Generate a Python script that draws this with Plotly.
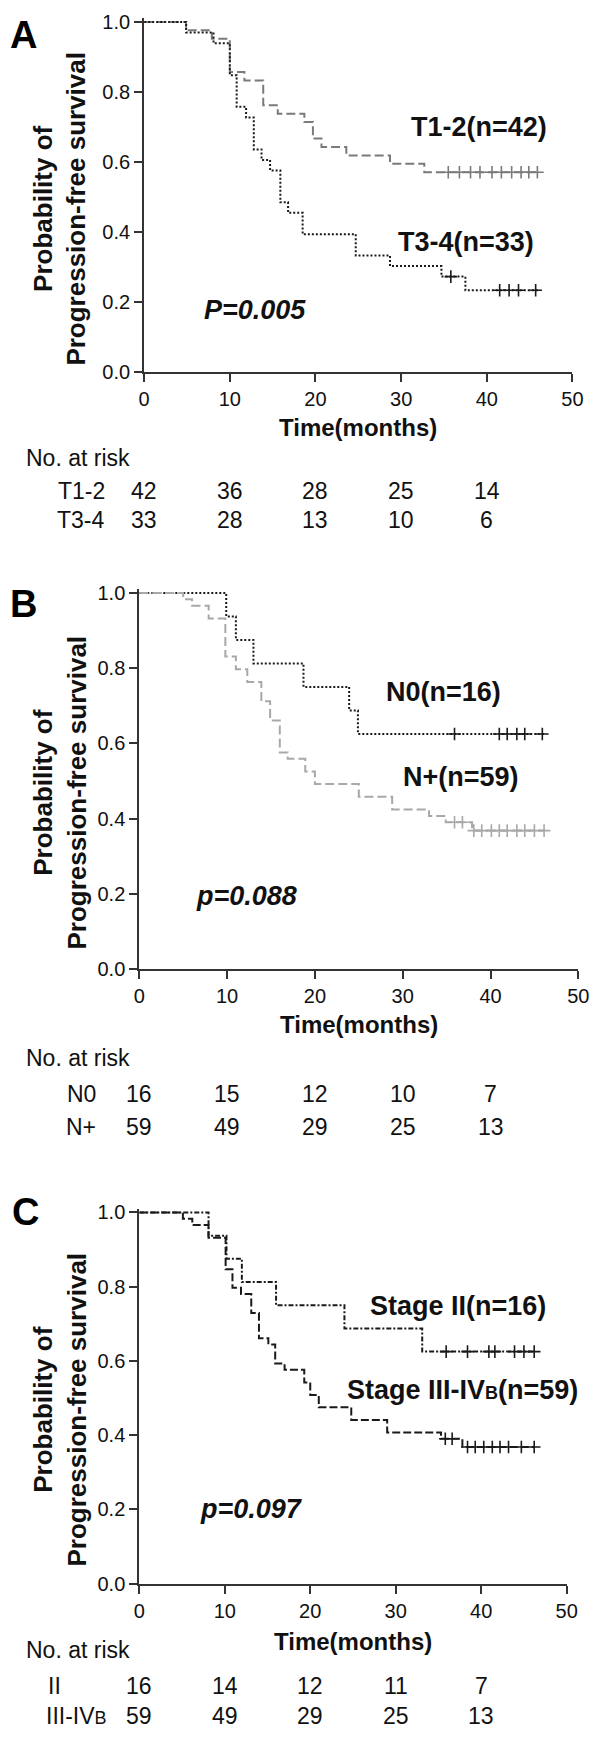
import plotly.graph_objects as go

# The page body keeps the browser's default 8px margin, so the figure is
# drawn 8px smaller than the window and all page positions are shifted by 8px.
PAGE_W, PAGE_H = 600, 1741
OFF = 8
W, H = PAGE_W - OFF, PAGE_H - OFF

# ---------------- data ----------------
x_ticks = [0, 10, 20, 30, 40, 50]
y_ticks = [0.0, 0.2, 0.4, 0.6, 0.8, 1.0]
y_tick_text = ["0.0", "0.2", "0.4", "0.6", "0.8", "1.0"]
risk_times = [0, 10, 20, 30, 40]

# Panel A
A_t12_time = [0, 4.9, 7.9, 10.0, 11.7, 13.9, 15.6, 18.7, 19.7, 20.7, 23.6, 28.7, 32.7, 46.0]
A_t12_surv = [1.0, 0.976, 0.952, 0.857, 0.833, 0.762, 0.738, 0.714, 0.667, 0.643, 0.619, 0.595, 0.571, 0.571]
A_t12_cens_time = [35.5, 36.8, 38.1, 39.2, 40.6, 41.7, 42.9, 44.0, 44.9, 45.9]
A_t12_cens_surv = [0.571] * 10
A_t34_time = [0, 4.9, 8.1, 10.0, 10.8, 11.9, 12.8, 13.7, 14.7, 15.9, 16.8, 18.5, 24.7, 28.7, 34.7, 37.5, 46.0]
A_t34_surv = [1.0, 0.970, 0.939, 0.848, 0.758, 0.727, 0.636, 0.606, 0.576, 0.485, 0.455, 0.394, 0.333, 0.303, 0.273, 0.234, 0.234]
A_t34_cens_time = [35.8, 41.5, 42.6, 43.7, 45.7]
A_t34_cens_surv = [0.273, 0.234, 0.234, 0.234, 0.234]
A_risk_labels = ["T1-2", "T3-4"]
A_risk_t12 = [42, 36, 28, 25, 14]
A_risk_t34 = [33, 28, 13, 10, 6]

# Panel B
B_n0_time = [0, 9.9, 11.0, 13.0, 18.7, 23.9, 24.9, 46.1]
B_n0_surv = [1.0, 0.9375, 0.875, 0.8125, 0.75, 0.6875, 0.625, 0.625]
B_n0_cens_time = [35.9, 41.0, 41.9, 43.0, 43.9, 45.9]
B_n0_cens_surv = [0.625] * 6
B_np_time = [0, 5.0, 6.0, 7.9, 9.8, 11.0, 12.3, 13.9, 14.9, 16.0, 16.9, 18.9, 20.0, 25.0, 28.8, 33.0, 34.9, 37.9, 46.1]
B_np_surv = [1.0, 0.983, 0.966, 0.932, 0.831, 0.797, 0.763, 0.712, 0.661, 0.576, 0.559, 0.525, 0.492, 0.458, 0.424, 0.407, 0.390, 0.368, 0.368]
B_np_cens_time = [35.9, 36.8, 38.1, 39.0, 40.1, 41.0, 41.9, 43.0, 43.9, 45.0, 46.1]
B_np_cens_surv = [0.390, 0.390] + [0.368] * 9
B_risk_labels = ["N0", "N+"]
B_risk_n0 = [16, 15, 12, 10, 7]
B_risk_np = [59, 49, 29, 25, 13]

# Panel C
SUB_B = "<span style='font-size:18px'>B</span>"
C_s2_time = [0, 8.1, 10.2, 12.0, 16.0, 24.0, 33.1, 46.2]
C_s2_surv = [1.0, 0.9375, 0.875, 0.8125, 0.75, 0.6875, 0.625, 0.625]
C_s2_cens_time = [35.9, 38.4, 40.9, 41.6, 43.9, 45.0, 46.2]
C_s2_cens_surv = [0.625] * 7
C_s34_time = [0, 5.1, 6.2, 8.1, 10.1, 10.9, 11.9, 13.1, 14.0, 15.1, 15.9, 17.0, 19.3, 20.0, 21.0, 24.8, 29.0, 35.3, 37.8, 46.2]
C_s34_surv = [1.0, 0.983, 0.966, 0.932, 0.847, 0.797, 0.780, 0.729, 0.661, 0.644, 0.593, 0.576, 0.542, 0.508, 0.475, 0.441, 0.407, 0.390, 0.368, 0.368]
C_s34_cens_time = [35.8, 36.6, 38.4, 39.3, 40.3, 41.3, 42.2, 43.2, 44.7, 46.2]
C_s34_cens_surv = [0.390, 0.390] + [0.368] * 8
C_risk_labels = ["II", "III-IV" + SUB_B]
C_risk_s2 = [16, 14, 12, 11, 7]
C_risk_s34 = [59, 49, 29, 25, 13]

# ---------------- styling / layout ----------------
FONT = "Liberation Sans, Arial, sans-serif"
AX = "#333333"
TXT = "#111111"


def px(x):
    return (x - OFF) / W


def py(y):
    return 1 - (y - OFF) / H


panels = [
    dict(letter="A", n="", x0=142, x1=583, y0=369, y1=15, letter_xy=(18, 28),
         curves=[
             (A_t12_time, A_t12_surv, A_t12_cens_time, A_t12_cens_surv, "#7a7a7a", "9px,4px", "T1-2(n=42)", (487, 121)),
             (A_t34_time, A_t34_surv, A_t34_cens_time, A_t34_cens_surv, "#1a1a1a", "2px,2px", "T3-4(n=33)", (473, 237)),
         ],
         pval="<i>P=0.005</i>", pxy=(202, 306),
         risk_labels=A_risk_labels, risk_rows=[A_risk_t12, A_risk_t34],
         label_x=[77, 77], title_y=425, nrisk_y=456, row_y=[489, 518]),
    dict(letter="B", n="2", x0=137, x1=589, y0=972, y1=592, letter_xy=(18, 603),
         curves=[
             (B_n0_time, B_n0_surv, B_n0_cens_time, B_n0_cens_surv, "#1a1a1a", "2px,2px", "N0(n=16)", (450, 692)),
             (B_np_time, B_np_surv, B_np_cens_time, B_np_cens_surv, "#a8a8a8", "9px,4px", "N+(n=59)", (468, 778)),
         ],
         pval="<i>p=0.088</i>", pxy=(193, 898),
         risk_labels=B_risk_labels, risk_rows=[B_risk_n0, B_risk_np],
         label_x=[77, 77], title_y=1028, nrisk_y=1062, row_y=[1098, 1132]),
    dict(letter="C", n="3", x0=137, x1=577, y0=1593, y1=1218, letter_xy=(20, 1218),
         curves=[
             (C_s2_time, C_s2_surv, C_s2_cens_time, C_s2_cens_surv, "#1a1a1a", "5px,2px,2px,2px", "Stage II(n=16)", (465, 1313)),
             (C_s34_time, C_s34_surv, C_s34_cens_time, C_s34_cens_surv, "#1a1a1a", "8px,3px",
              "Stage III-IV" + SUB_B + "(n=59)", (470, 1397)),
         ],
         pval="<i>p=0.097</i>", pxy=(197, 1518),
         risk_labels=C_risk_labels, risk_rows=[C_risk_s2, C_risk_s34],
         label_x=[50, 72], title_y=1652, nrisk_y=1660, row_y=[1697, 1727]),
]

fig = go.Figure()
annotations = []
YMAX = 1.01

for p in panels:
    xa = "x" + p["n"]
    ya = "y" + p["n"]
    xkey = "xaxis" + p["n"]
    ykey = "yaxis" + p["n"]
    ytop = p["y0"] - YMAX * (p["y0"] - p["y1"])
    fig.layout[xkey] = dict(
        domain=[px(p["x0"]), px(p["x1"])], range=[0, 50], anchor=ya,
        tickvals=x_ticks, ticks="outside", ticklen=8, tickwidth=2, tickcolor=AX,
        showline=True, linecolor=AX, linewidth=2, showgrid=False, zeroline=False,
        ticklabeloverflow="allow",
        tickfont=dict(family=FONT, size=20, color=TXT), fixedrange=True,
    )
    fig.layout[ykey] = dict(
        domain=[py(p["y0"]), min(1.0, py(ytop))], range=[0, YMAX], anchor=xa,
        tickvals=y_ticks, ticktext=y_tick_text, ticks="outside", ticklen=8, tickwidth=2,
        tickcolor=AX, showline=True, linecolor=AX, linewidth=2, showgrid=False,
        zeroline=False, ticklabeloverflow="allow",
        tickfont=dict(family=FONT, size=20, color=TXT), fixedrange=True,
    )
    for (t, s, ct, cs, col, dash, lab, lxy) in p["curves"]:
        fig.add_trace(go.Scatter(x=t, y=s, mode="lines", line=dict(color=col, width=2, dash=dash, shape="hv"),
                                 xaxis=xa, yaxis=ya, showlegend=False, hoverinfo="skip"))
        fig.add_trace(go.Scatter(x=ct, y=cs, mode="markers",
                                 marker=dict(symbol="cross-thin", size=9, line=dict(color=col, width=1.6)),
                                 xaxis=xa, yaxis=ya, showlegend=False, hoverinfo="skip"))
        annotations.append(dict(x=px(lxy[0]), y=py(lxy[1]), xref="paper", yref="paper", text="<b>" + lab + "</b>",
                                showarrow=False, xanchor="center", yanchor="middle",
                                font=dict(family=FONT, size=27, color=TXT)))
    # panel letter
    annotations.append(dict(x=px(p["letter_xy"][0]), y=py(p["letter_xy"][1]), xref="paper", yref="paper",
                            text="<b>" + p["letter"] + "</b>", showarrow=False, xanchor="center", yanchor="middle",
                            font=dict(family=FONT, size=38, color="#000")))
    # p value
    annotations.append(dict(x=px(p["pxy"][0]), y=py(p["pxy"][1]), xref="paper", yref="paper",
                            text="<b>" + p["pval"] + "</b>", showarrow=False, xanchor="left", yanchor="middle",
                            font=dict(family=FONT, size=27, color=TXT)))
    # y title
    ymid = (p["y0"] + p["y1"]) / 2 + 12
    annotations.append(dict(x=px(55), y=py(ymid), xref="paper", yref="paper",
                            text="<b>Probability of<br>Progression-free survival</b>", showarrow=False,
                            textangle=-90, xanchor="center", yanchor="middle",
                            font=dict(family=FONT, size=26, color=TXT)))
    # x title
    annotations.append(dict(x=px((p["x0"] + p["x1"]) / 2), y=py(p["title_y"]), xref="paper", yref="paper",
                            text="<b>Time(months)</b>", showarrow=False, xanchor="center", yanchor="middle",
                            font=dict(family=FONT, size=24, color=TXT)))
    # risk table
    annotations.append(dict(x=px(18), y=py(p["nrisk_y"]), xref="paper", yref="paper",
                            text="No. at risk", showarrow=False, xanchor="left", yanchor="middle",
                            font=dict(family=FONT, size=23, color=TXT)))
    for lab, row, lx, ry in zip(p["risk_labels"], p["risk_rows"], p["label_x"], p["row_y"]):
        annotations.append(dict(x=px(lx), y=py(ry), xref="paper", yref="paper", text=lab,
                                showarrow=False, xanchor="center", yanchor="middle",
                                font=dict(family=FONT, size=23, color=TXT)))
        for tt, v in zip(risk_times, row):
            xpix = p["x0"] + tt / 50 * (p["x1"] - p["x0"])
            annotations.append(dict(x=px(xpix), y=py(ry), xref="paper", yref="paper", text=str(v),
                                    showarrow=False, xanchor="center", yanchor="middle",
                                    font=dict(family=FONT, size=23, color=TXT)))

fig.update_layout(width=W, height=H, margin=dict(l=0, r=0, t=0, b=0),
                  paper_bgcolor="white", plot_bgcolor="white", annotations=annotations)
fig.write_html("out.html")
